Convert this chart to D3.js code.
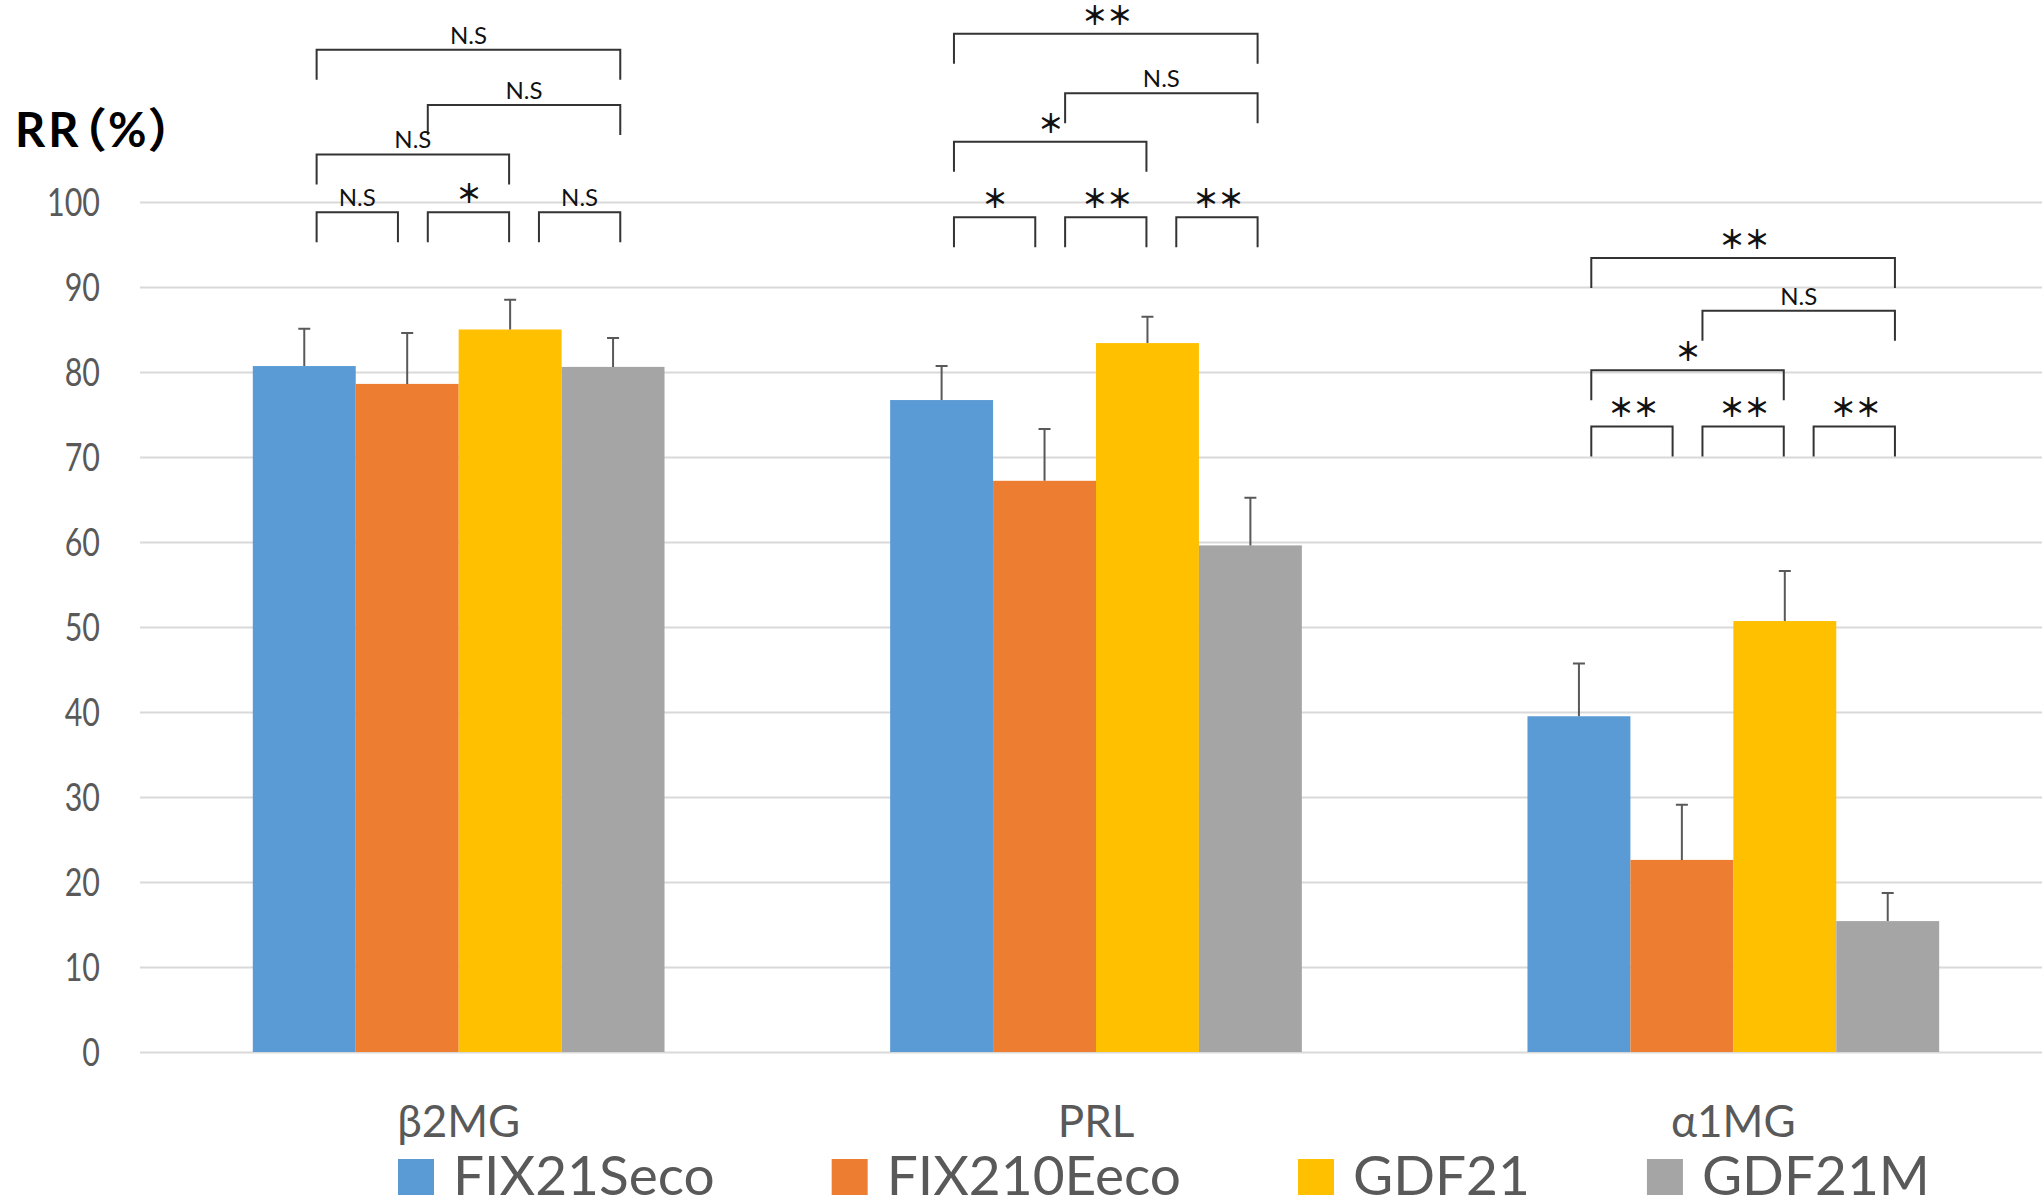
<!DOCTYPE html>
<html>
<head>
<meta charset="utf-8">
<script src="https://cdn.jsdelivr.net/npm/d3@7"></script>
<style>
body{margin:0;background:#fff;}
svg{display:block;}
</style>
</head>
<body>
<div id="chart"></div>
<script>
var categories = ["β2MG", "PRL", "α1MG"];
var seriesNames = ["FIX21Seco", "FIX210Eeco", "GDF21", "GDF21M"];
var seriesColors = ["#5b9bd5", "#ed7d31", "#ffc000", "#a5a5a5"];

// mean RR (%) per category
var fix21Seco  = [80.7, 76.7, 39.5];
var fix210Eeco = [78.6, 67.2, 22.6];
var gdf21      = [85.0, 83.4, 50.7];
var gdf21M     = [80.6, 59.6, 15.4];

// upper error bar length per category
var fix21SecoErr  = [4.4, 4.0, 6.2];
var fix210EecoErr = [6.0, 6.1, 6.5];
var gdf21Err      = [3.5, 3.1, 5.9];
var gdf21MErr     = [3.4, 5.6, 3.3];

var yTicks = [0, 10, 20, 30, 40, 50, 60, 70, 80, 90, 100];
var yLabel = "RR（%）";

// category, series a, series b, bracket height (%), label
var comparisons = [
    ["β2MG", 0, 3, 117.9, "N.S"],
    ["β2MG", 1, 3, 111.4, "N.S"],
    ["β2MG", 0, 2, 105.6, "N.S"],
    ["β2MG", 0, 1, 98.8, "N.S"],
    ["β2MG", 1, 2, 98.8, "＊"],
    ["β2MG", 2, 3, 98.8, "N.S"],
    ["PRL", 0, 3, 119.8, "＊＊"],
    ["PRL", 1, 3, 112.8, "N.S"],
    ["PRL", 0, 2, 107.1, "＊"],
    ["PRL", 0, 1, 98.2, "＊"],
    ["PRL", 1, 2, 98.2, "＊＊"],
    ["PRL", 2, 3, 98.2, "＊＊"],
    ["α1MG", 0, 3, 93.4, "＊＊"],
    ["α1MG", 1, 3, 87.2, "N.S"],
    ["α1MG", 0, 2, 80.2, "＊"],
    ["α1MG", 0, 1, 73.6, "＊＊"],
    ["α1MG", 1, 2, 73.6, "＊＊"],
    ["α1MG", 2, 3, 73.6, "＊＊"]
];

var seriesValues = [fix21Seco, fix210Eeco, gdf21, gdf21M];
var seriesErrors = [fix21SecoErr, fix210EecoErr, gdf21Err, gdf21MErr];

function BarChart(targetContainer){
    this.WIDTH = 2042;
    this.HEIGHT = 1202;
    this.PLOTLEFT = 140;
    this.PLOTRIGHT = 2052;
    this.BASELINE = 1052;
    this.TOP100 = 202;
    this.LEG = 30;
    this.TICKSCALE = 0.8;

    this.container = d3.select(targetContainer);
    this.svg = null;
    this.x0 = null;
    this.x1 = null;
    this.y = null;

    this.createPlot();
}

BarChart.prototype.createPlot = function(){
    this.svg = this.container.append("svg")
        .attr("width", this.WIDTH)
        .attr("height", this.HEIGHT);

    this.x0 = d3.scaleBand()
        .domain(categories)
        .range([this.PLOTLEFT, this.PLOTRIGHT])
        .paddingInner(0.354)
        .paddingOuter(0.177);
    this.x1 = d3.scaleBand()
        .domain(seriesNames)
        .range([0, this.x0.bandwidth()]);
    this.y = d3.scaleLinear()
        .domain([0, 100])
        .range([this.BASELINE, this.TOP100]);
};

BarChart.prototype.drawAxes = function(){
    var sx = this.TICKSCALE;
    var axis = d3.axisLeft(this.y)
        .tickValues(yTicks)
        .tickSize(-(this.PLOTRIGHT - this.PLOTLEFT))
        .tickPadding(40);

    var g = this.svg.append("g")
        .attr("class", "yaxis")
        .attr("transform", "translate(" + this.PLOTLEFT + ",0)")
        .call(axis);
    g.select(".domain").remove();
    g.selectAll(".tick line")
        .attr("stroke", "#d9d9d9")
        .attr("stroke-width", 2);
    g.selectAll(".tick text")
        .attr("fill", "#595959")
        .attr("font-family", "Lato, sans-serif")
        .attr("font-size", 38)
        .attr("x", -40 / sx)
        .attr("transform", "scale(" + sx + ",1)")
        .attr("dy", "0.36em");

    var self = this;
    this.svg.append("g")
        .attr("class", "xlabels")
        .selectAll("text")
        .data(categories)
        .join("text")
        .attr("x", function(d){ return self.x0(d) + self.x0.bandwidth()/2; })
        .attr("y", 1137)
        .attr("text-anchor", "middle")
        .attr("fill", "#595959")
        .attr("font-family", "Lato, sans-serif")
        .attr("font-size", 44)
        .text(function(d){ return d; });

    this.svg.append("text")
        .attr("x", 15)
        .attr("y", 147)
        .attr("fill", "#000")
        .attr("font-family", "Lato, 'Noto Sans CJK JP', sans-serif")
        .attr("font-weight", "bold")
        .attr("font-size", 47)
        .attr("letter-spacing", 3)
        .style("font-feature-settings", "'palt'")
        .text(yLabel);
};

BarChart.prototype.drawBars = function(){
    var self = this;
    var rows = [];
    seriesNames.forEach(function(s, si){
        categories.forEach(function(c, ci){
            rows.push({cat: c, series: s, idx: si, value: seriesValues[si][ci], err: seriesErrors[si][ci]});
        });
    });

    this.svg.append("g")
        .attr("class", "bars")
        .selectAll("rect")
        .data(rows)
        .join("rect")
        .attr("x", function(d){ return self.x0(d.cat) + self.x1(d.series); })
        .attr("y", function(d){ return self.y(d.value); })
        .attr("width", this.x1.bandwidth())
        .attr("height", function(d){ return self.y(0) - self.y(d.value); })
        .attr("fill", function(d){ return seriesColors[d.idx]; });

    var bw = this.x1.bandwidth();
    this.svg.append("g")
        .attr("class", "errorbars")
        .attr("stroke", "#595959")
        .attr("stroke-width", 2)
        .attr("fill", "none")
        .selectAll("path")
        .data(rows)
        .join("path")
        .attr("d", function(d){
            var cx = self.x0(d.cat) + self.x1(d.series) + bw/2;
            var top = self.y(d.value + d.err);
            return "M" + cx + "," + self.y(d.value) + "V" + top +
                "M" + (cx - 6) + "," + top + "H" + (cx + 6);
        });
};

BarChart.prototype.drawBrackets = function(){
    var self = this;
    var bw = this.x1.bandwidth();
    var leg = this.LEG;
    // bracket feet are spaced a little wider than the bars themselves
    var footLeft = d3.scaleLinear().domain([0, 1]).range([0.62*bw, 1.70*bw]);
    var footRight = d3.scaleLinear().domain([0, 1]).range([0.33*bw, 1.41*bw]);
    var g = this.svg.append("g").attr("class", "brackets");

    comparisons.forEach(function(c){
        var left = self.x0(c[0]) + footLeft(c[1]);
        var right = self.x0(c[0]) + footRight(c[2]);
        var yy = self.y(c[3]);
        g.append("path")
            .attr("d", "M" + left + "," + (yy + leg) + "V" + yy + "H" + right + "V" + (yy + leg))
            .attr("fill", "none")
            .attr("stroke", "#333")
            .attr("stroke-width", 2);

        var star = c[4].indexOf("＊") >= 0;
        var t = g.append("text")
            .attr("x", (left + right)/2)
            .attr("y", star ? yy - 9 : yy - 6)
            .attr("text-anchor", "middle")
            .attr("fill", "#111")
            .text(c[4]);
        if (star){
            t.attr("font-family", "'Noto Sans CJK JP', sans-serif")
                .attr("font-weight", "bold")
                .attr("font-size", 26)
                .attr("letter-spacing", -1)
                .attr("dx", c[4].length > 1 ? 1 : 0);
        } else {
            t.attr("font-family", "Lato, sans-serif")
                .attr("font-size", 24);
        }
    });
};

BarChart.prototype.drawLegend = function(){
    var g = this.svg.append("g").attr("class", "legend");
    var xpos = 398;
    seriesNames.forEach(function(s, i){
        g.append("rect")
            .attr("x", xpos)
            .attr("y", 1159)
            .attr("width", 36)
            .attr("height", 36)
            .attr("fill", seriesColors[i]);
        var t = g.append("text")
            .attr("x", xpos + 55)
            .attr("y", 1195)
            .attr("fill", "#595959")
            .attr("font-family", "Lato, sans-serif")
            .attr("font-size", 55)
            .text(s);
        xpos = xpos + 55 + t.node().getComputedTextLength() + 117;
    });
};

var chart = new BarChart("#chart");
chart.drawAxes();
chart.drawBars();
chart.drawBrackets();
chart.drawLegend();
</script>
</body>
</html>
